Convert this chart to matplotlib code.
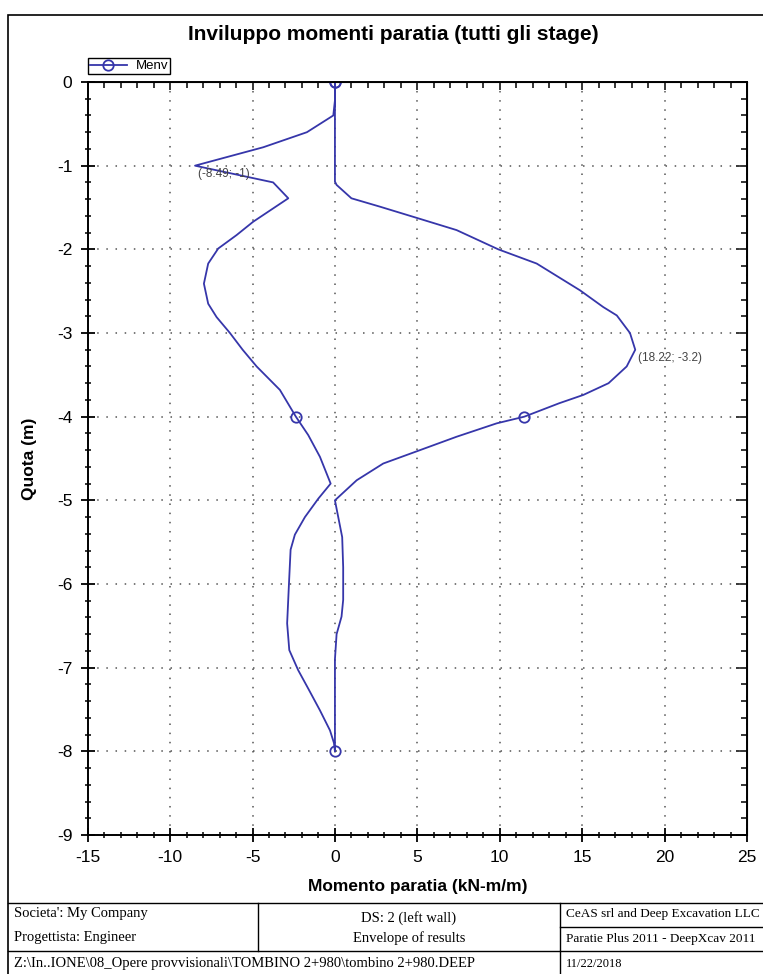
import matplotlib.pyplot as plt
import numpy as np
from matplotlib.patches import Rectangle
from matplotlib.lines import Line2D

# envelope, min branch (top -> bottom): quota (m), momento (kN-m/m)
z_min = [0, -0.22, -0.4, -0.6, -0.78, -1.0, -1.2, -1.39, -1.67, -1.83, -1.99, -2.17,
         -2.41, -2.65, -2.81, -3.0, -3.2, -3.4, -3.68, -4.0, -4.22, -4.48, -4.8, -4.98,
         -5.2, -5.41, -5.59, -6.0, -6.47, -6.79, -7.03, -7.25, -7.51, -7.75, -7.9, -8.0]
m_min = [0, 0.0, -0.1, -1.7, -4.35, -8.49, -3.75, -2.83, -4.96, -5.97, -7.08, -7.69,
         -7.95, -7.69, -7.18, -6.37, -5.6, -4.75, -3.34, -2.37, -1.62, -0.91, -0.26, -1.01,
         -1.82, -2.43, -2.69, -2.79, -2.9, -2.77, -2.23, -1.62, -0.91, -0.3, -0.06, 0.0]

# envelope, max branch (top -> bottom)
z_max = [0, -1.19, -1.23, -1.39, -1.49, -1.63, -1.77, -2.0, -2.17, -2.49, -2.69, -2.79,
         -3.0, -3.2, -3.4, -3.6, -3.74, -3.84, -4.0, -4.08, -4.24, -4.4, -4.56, -4.76,
         -5.0, -5.2, -5.44, -5.8, -6.19, -6.39, -6.6, -6.9, -8.0]
m_max = [0, 0.0, 0.1, 1.0, 2.73, 5.06, 7.38, 9.91, 12.24, 14.87, 16.28, 17.1,
         17.9, 18.22, 17.7, 16.6, 15.07, 13.6, 11.49, 9.81, 7.38, 5.16, 2.93, 1.32,
         0.0, 0.2, 0.44, 0.5, 0.5, 0.4, 0.1, 0.0, 0.0]

marker_quote = [0, -4, -8]
peaks = [(-8.49, -1), (18.22, -3.2)]

title = "Inviluppo momenti paratia (tutti gli stage)"
xlabel = "Momento paratia (kN-m/m)"
ylabel = "Quota (m)"

# single closed line: down the min side, back up the max side
z = np.array(z_min + z_max[::-1][1:])
m = np.array(m_min + m_max[::-1][1:])
mark_idx = list(np.where(np.isin(z, marker_quote))[0])

W, H = 763, 974
plt.rcParams['font.family'] = ['Liberation Sans', 'DejaVu Sans']
plt.rcParams['axes.unicode_minus'] = False
fig = plt.figure(figsize=(W / 100, H / 100), dpi=100)

ax = fig.add_axes([87.7 / W, 1 - 835 / H, (747 - 87.7) / W, (835 - 82) / H])
col = '#3636aa'
ax.plot(m, z, color=col, lw=1.3, marker='o', mfc='none', mec=col, ms=7.5, mew=1.3,
        markevery=mark_idx, label='Menv')

for px, pz in peaks:
    ax.annotate(f"({px}; {pz})", (px, pz), xytext=(2, -6), textcoords='offset points',
                fontsize=8.5, color='#444444', ha='left', va='center')

ax.set_xlim(-15, 25)
ax.set_ylim(-9, 0)
ax.set_xticks(np.arange(-15, 26, 5))
ax.set_xticks(np.arange(-15, 26, 1), minor=True)
ax.set_yticks(np.arange(-9, 1, 1))
ax.set_yticks(np.arange(-9, 0.01, 0.2), minor=True)
ax.grid(True, which='major', color='#555555', linestyle=(0, (1, 5)), lw=1.1)
ax.tick_params(which='major', direction='inout', length=10, width=1.3, labelsize=12.5, pad=6)
ax.tick_params(which='minor', direction='inout', length=4.5, width=1.1)
for s in ax.spines.values():
    s.set_linewidth(1.4)

secx = ax.secondary_xaxis('top')
secx.set_xticks(np.arange(-15, 26, 5))
secx.set_xticks(np.arange(-15, 26, 1), minor=True)
secx.tick_params(which='both', direction='in', labeltop=False, width=1.1)
secx.tick_params(which='major', length=6)
secx.tick_params(which='minor', length=4)
secy = ax.secondary_yaxis('right')
secy.set_yticks(np.arange(-9, 1, 1))
secy.set_yticks(np.arange(-9, 0.01, 0.2), minor=True)
secy.tick_params(which='both', direction='in', labelright=False, width=1.1)
secy.tick_params(which='major', length=8)
secy.tick_params(which='minor', length=4)

ax.set_xlabel(xlabel, fontsize=12.5, fontweight='bold', labelpad=10)
ax.set_ylabel(ylabel, fontsize=12.5, fontweight='bold', labelpad=14)

leg = ax.legend(loc='lower left', bbox_to_anchor=(0.0, 1.01), fontsize=9.5,
                fancybox=False, edgecolor='black', framealpha=1, borderpad=0.15,
                handlelength=2.8, handletextpad=0.7, borderaxespad=0)
leg.get_frame().set_linewidth(1.0)

fig.text(393 / W, 1 - 35 / H, title, ha='center', va='center', fontsize=15,
         fontweight='bold')

# outer page frame
fig.add_artist(Rectangle((8 / W, -0.05), 1.1, 1 - 15 / H + 0.05, transform=fig.transFigure,
                         fill=False, edgecolor='black', lw=1.2))


# footer table
def hline(y, x0, x1):
    fig.add_artist(Line2D([x0 / W, x1 / W], [1 - y / H, 1 - y / H], color='black', lw=1.0))


def vline(x, y0, y1):
    fig.add_artist(Line2D([x / W, x / W], [1 - y0 / H, 1 - y1 / H], color='black', lw=1.0))


hline(903, 8, W)
hline(951, 8, W)
hline(927, 560, W)
vline(258, 903, 951)
vline(560, 903, H)

serif = ['Liberation Serif', 'DejaVu Serif']
fig.text(14 / W, 1 - 914 / H, "Societa': My Company", family=serif, fontsize=10.5, va='center')
fig.text(14 / W, 1 - 938 / H, "Progettista: Engineer", family=serif, fontsize=10.5, va='center')
fig.text(14 / W, 1 - 964 / H, "Z:\\In..IONE\\08_Opere provvisionali\\TOMBINO 2+980\\tombino 2+980.DEEP",
         family=serif, fontsize=10.5, va='center')
fig.text(409 / W, 1 - 918 / H, "DS: 2 (left wall)", family=serif, fontsize=10.5, va='center', ha='center')
fig.text(409 / W, 1 - 938 / H, "Envelope of results", family=serif, fontsize=10.5, va='center', ha='center')
fig.text(566 / W, 1 - 914 / H, "CeAS srl and Deep Excavation LLC", family=serif, fontsize=9.5, va='center')
fig.text(566 / W, 1 - 939 / H, "Paratie Plus 2011 - DeepXcav 2011", family=serif, fontsize=9.5, va='center')
fig.text(566 / W, 1 - 964 / H, "11/22/2018", family=serif, fontsize=9, va='center')

fig.savefig('out.png', dpi=100)
